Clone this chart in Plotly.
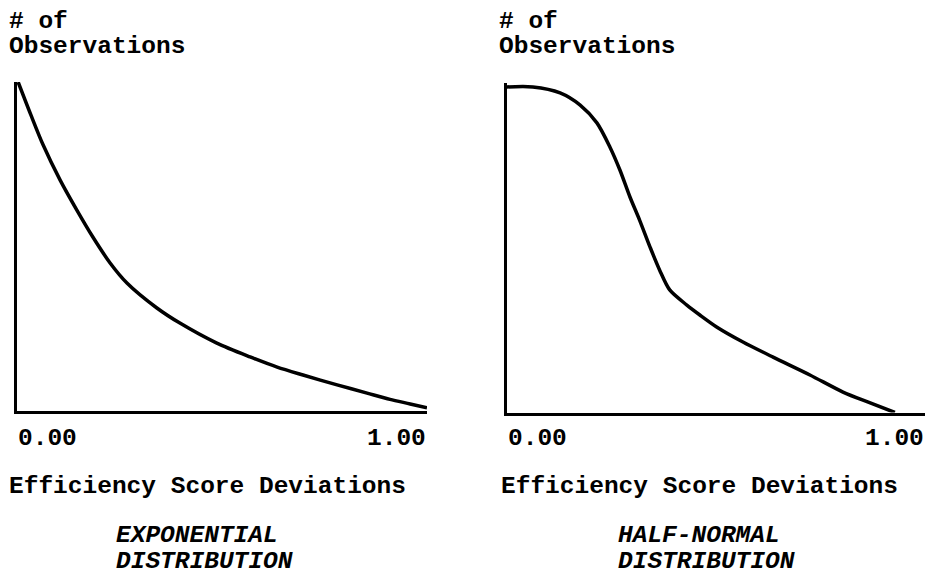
import plotly.graph_objects as go

# Exponential distribution curve (efficiency score deviation vs relative # of observations)
exp_x = [0.004, 0.035, 0.065, 0.106, 0.147, 0.186, 0.228, 0.269, 0.342, 0.398, 0.488, 0.569, 0.635, 0.698, 0.781, 0.854, 0.910, 0.959, 1.000]
exp_y = [1.000, 0.900, 0.808, 0.702, 0.610, 0.528, 0.449, 0.388, 0.312, 0.266, 0.205, 0.163, 0.132, 0.108, 0.078, 0.053, 0.034, 0.020, 0.008]

# Half-normal distribution curve
hn_x = [0.001, 0.063, 0.128, 0.176, 0.216, 0.247, 0.271, 0.295, 0.318, 0.343, 0.366, 0.390, 0.431, 0.462, 0.503, 0.565, 0.637, 0.725, 0.804, 0.869, 0.928]
hn_y = [0.988, 0.988, 0.970, 0.933, 0.879, 0.806, 0.736, 0.654, 0.584, 0.502, 0.432, 0.372, 0.326, 0.296, 0.259, 0.214, 0.168, 0.114, 0.062, 0.029, 0.000]

tick_labels = ["0.00", "1.00"]
y_label = ["# of", "Observations"]
x_label = "Efficiency Score Deviations"
titles = [["EXPONENTIAL", "DISTRIBUTION"], ["HALF-NORMAL", "DISTRIBUTION"]]

W, H = 929, 571
FONT = "Liberation Mono, Courier New, monospace"

def px(v):
    return v / W

def py(v):
    return (H - v) / H

fig = go.Figure()
fig.add_trace(go.Scatter(x=exp_x, y=exp_y, mode="lines", line=dict(color="black", width=3.5, shape="spline", smoothing=0.8),
                         xaxis="x", yaxis="y", showlegend=False, hoverinfo="skip"))
fig.add_trace(go.Scatter(x=hn_x, y=hn_y, mode="lines", line=dict(color="black", width=3.5, shape="spline", smoothing=0.8),
                         xaxis="x2", yaxis="y2", showlegend=False, hoverinfo="skip"))

ax_common = dict(showgrid=False, zeroline=False, showticklabels=False, ticks="",
                 showline=True, linecolor="black", linewidth=3, fixedrange=True)

fig.update_layout(
    width=W, height=H,
    margin=dict(l=0, r=0, t=0, b=0),
    paper_bgcolor="white", plot_bgcolor="white",
    xaxis=dict(domain=[px(16.5), px(427)], range=[0, 1], anchor="y", **ax_common),
    yaxis=dict(domain=[py(410.5), py(82)], range=[0, 1], anchor="x", **ax_common),
    xaxis2=dict(domain=[px(506.5), px(925)], range=[0, 1], anchor="y2", **ax_common),
    yaxis2=dict(domain=[py(412.5), py(83)], range=[0, 1], anchor="x2", **ax_common),
)

def txt(text, x, y, xref="paper", xanchor="left", italic=False):
    fig.add_annotation(text=text, x=x, y=y, xref=xref, yref="paper",
                       xanchor=xanchor, yanchor="middle", showarrow=False, borderpad=0,
                       font=dict(family=FONT, size=24.5, color="black", weight="bold",
                                 style="italic" if italic else "normal"))

panels = [("x", 8, 8, 115), ("x2", 498, 500, 617)]
for i, (xr, ylab_x, xlab_x, title_x) in enumerate(panels):
    txt(y_label[0], px(ylab_x), py(21))
    txt(y_label[1], px(ylab_x), py(46))
    txt(tick_labels[0], 0, py(438), xref=xr, xanchor="left")
    txt(tick_labels[1], 1, py(438), xref=xr, xanchor="right")
    txt(x_label, px(xlab_x), py(486))
    txt(titles[i][0], px(title_x), py(535.5), italic=True)
    txt(titles[i][1], px(title_x), py(561), italic=True)

fig.write_html("out.html", config={"displayModeBar": False},
               post_script="document.body.style.margin='0';document.body.style.overflow='hidden';")
